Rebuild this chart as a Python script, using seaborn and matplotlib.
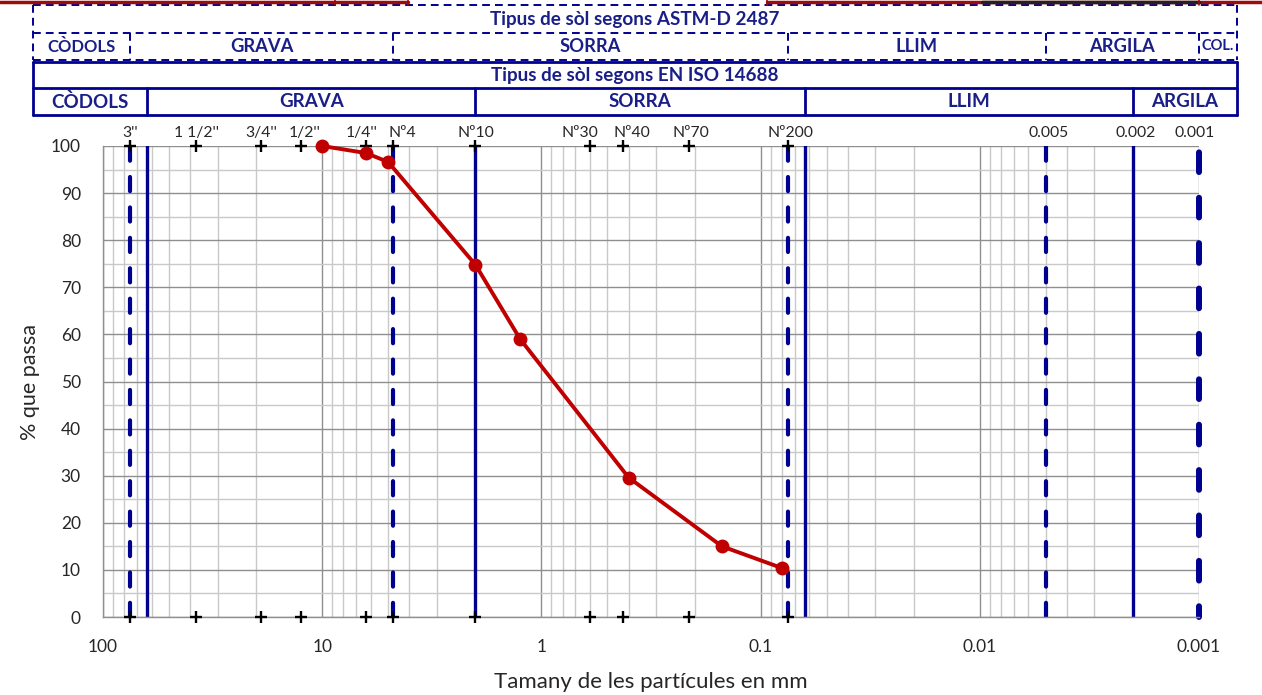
import matplotlib
matplotlib.use("Agg")
import matplotlib.pyplot as plt
import seaborn as sns
import pandas as pd
from matplotlib.lines import Line2D
from matplotlib.transforms import ScaledTranslation
from matplotlib.ticker import LogLocator, MultipleLocator, NullLocator, FixedLocator, NullFormatter

# ---------------- data ----------------
sizes_mm = [10, 6.3, 5.0, 2.0, 1.25, 0.4, 0.15, 0.08]
pct_pass = [100, 98.5, 96.6, 74.8, 59.0, 29.6, 15.0, 10.4]

sieve_sizes = [75, 37.5, 19, 12.5, 6.3, 4.75, 2.0, 0.6, 0.425, 0.212, 0.075]
sieve_labels = ["3''", "1 1/2''", "3/4''", "1/2''", "1/4''", "Nº4", "Nº10",
                "Nº30", "Nº40", "Nº70", "Nº200"]
fine_sizes = [0.005, 0.002, 0.001]
fine_labels = ["0.005", "0.002", "0.001"]

astm_bounds = [75, 4.75, 0.075, 0.005, 0.001]
astm_classes = ["CÒDOLS", "GRAVA", "SORRA", "LLIM", "ARGILA", "COL."]
iso_bounds = [63, 2, 0.063, 0.002]
iso_classes = ["CÒDOLS", "GRAVA", "SORRA", "LLIM", "ARGILA"]
astm_title = "Tipus de sòl segons ASTM-D 2487"
iso_title = "Tipus de sòl segons EN ISO 14688"

x_ticks = [100, 10, 1, 0.1, 0.01, 0.001]
x_ticklabels = ["100", "10", "1", "0.1", "0.01", "0.001"]
y_ticks = [0, 10, 20, 30, 40, 50, 60, 70, 80, 90, 100]

x_label = "Tamany de les partícules en mm"
y_label = "% que passa"

# ---------------- style ----------------
sns.set_style("white")
plt.rcParams["font.family"] = ["Lato", "DejaVu Sans"]

NAVY = "#000090"
TXT_NAVY = "#1a1f88"
RED = "#C00000"

# horizontal nudges (pixels) of the top labels, as in the original layout
top_label_nudge = [0, 0, 0, 4, -5, 9, 0, -10, 9, 2, 2, 3, 3, -4]

W, H = 1262, 695
fig = plt.figure(figsize=(W / 100, H / 100), dpi=100)
ax = fig.add_axes([103 / W, 1 - 617 / H, 1096 / W, 471 / H])
ax.set_xscale("log")
ax.set_xlim(100, 0.001)
ax.set_ylim(0, 100)

# grid
ax.xaxis.set_major_locator(FixedLocator(x_ticks))
ax.set_xticklabels(x_ticklabels)
ax.xaxis.set_minor_locator(LogLocator(base=10, subs=range(2, 10)))
ax.xaxis.set_minor_formatter(NullFormatter())
ax.yaxis.set_major_locator(FixedLocator(y_ticks))
ax.yaxis.set_minor_locator(MultipleLocator(5))
ax.grid(which="major", color="#8f8f8f", lw=1.0, zorder=0)
ax.grid(which="minor", color="#c9c9c9", lw=1.0, zorder=0)
ax.set_axisbelow(True)
ax.tick_params(axis="x", which="major", length=5, color="#8f8f8f", pad=11,
               labelsize=12.5, direction="out")
ax.tick_params(axis="y", which="major", length=6, color="#8f8f8f", pad=10,
               labelsize=12.5, direction="out")
ax.tick_params(which="minor", length=0)
for s in ["top", "right"]:
    ax.spines[s].set_visible(False)
for s in ["left", "bottom"]:
    ax.spines[s].set_color("#8f8f8f")
    ax.spines[s].set_linewidth(1.0)

# boundary lines
for b in iso_bounds:
    ax.axvline(b, color=NAVY, lw=2.4, zorder=2)
for b in astm_bounds[:-1]:
    ax.axvline(b, color=NAVY, lw=3.0, ls=(0, (3.4, 3.9)),
               dash_capstyle="round", zorder=2)
ax.axvline(astm_bounds[-1], color=NAVY, lw=4.3, ls=(1.5, (3.3, 4.3)),
           dash_capstyle="round", zorder=2, clip_on=False)

# sieve markers (top and bottom)
ax.plot(sieve_sizes, [100] * len(sieve_sizes), "+", color="black", ms=8,
        mew=1.7, clip_on=False, zorder=4)
ax.plot(sieve_sizes, [0] * len(sieve_sizes), "+", color="black", ms=8,
        mew=1.7, clip_on=False, zorder=4)

# grading curve
df = pd.DataFrame({"size": sizes_mm, "pass": pct_pass})
sns.lineplot(data=df, x="size", y="pass", ax=ax, color=RED, lw=2.8,
             marker="o", markersize=10, markeredgecolor=RED,
             markeredgewidth=0, sort=False, estimator=None, zorder=6,
             clip_on=False)

ax.set_xlabel(x_label, fontsize=16, labelpad=12)
ax.set_ylabel(y_label, fontsize=15.5, labelpad=8)

# top axis with sieve names
sec = ax.secondary_xaxis("top")
sec.set_xticks(sieve_sizes + fine_sizes, labels=sieve_labels + fine_labels)
sec.xaxis.set_minor_locator(NullLocator())
sec.tick_params(length=0, pad=4, labelsize=11.3)
sec.spines["top"].set_visible(False)
for lbl, dx in zip(sec.get_xticklabels(), top_label_nudge):
    lbl.set_transform(lbl.get_transform() +
                      ScaledTranslation(dx / 100, 0, fig.dpi_scale_trans))

# ---------------- classification tables ----------------
fig.canvas.draw()
inv = fig.transFigure.inverted()


def fx(v):
    return inv.transform(ax.transData.transform((v, 50)))[0]


def px(p):
    return p / W


def py(p):
    return 1 - p / H


left, right = px(33), px(1237)


def hline(x0, x1, y, dashed, lw):
    ls = (0, (4, 2.6)) if dashed else "-"
    fig.add_artist(Line2D([x0, x1], [y, y], color=NAVY, lw=lw, ls=ls,
                          transform=fig.transFigure))


def vline(x, y0, y1, dashed, lw):
    ls = (0, (4, 2.6)) if dashed else "-"
    fig.add_artist(Line2D([x, x], [y0, y1], color=NAVY, lw=lw, ls=ls,
                          transform=fig.transFigure))


def table(title, classes, bounds, ytop, ymid, ybot, dashed, lw, sizes):
    for y in (ytop, ymid, ybot):
        hline(left, right, y, dashed, lw)
    vline(left, ytop, ybot, dashed, lw)
    vline(right, ytop, ybot, dashed, lw)
    edges = [left] + [fx(b) for b in bounds] + [right]
    for e in edges[1:-1]:
        vline(e, ymid, ybot, dashed, lw)
    fig.text((left + right) / 2, (ytop + ymid) / 2, title, ha="center",
             va="center", fontsize=13.6, fontweight="bold", color=TXT_NAVY)
    for i, c in enumerate(classes):
        fig.text((edges[i] + edges[i + 1]) / 2, (ymid + ybot) / 2, c,
                 ha="center", va="center", fontsize=sizes[i],
                 fontweight="bold", color=TXT_NAVY)


table(astm_title, astm_classes, astm_bounds, py(5), py(33), py(60), True,
      1.4, [12, 13.2, 13.2, 13.2, 13.2, 10.5])
table(iso_title, iso_classes, iso_bounds, py(62), py(88), py(115), False,
      2.0, [13.5, 13.5, 13.5, 13.5, 13.5])

# remnants of a framed element cut at the top edge
DRED = "#9e0b0b"
for x0, x1 in [(0, 408), (767, 1262)]:
    fig.add_artist(Line2D([px(x0), px(x1)], [py(2), py(2)], color=DRED,
                          lw=2.5, transform=fig.transFigure))
fig.add_artist(Line2D([px(982), px(1199)], [py(2), py(2)], color="#222222",
                      lw=2.5, transform=fig.transFigure))
for xv in (335, 408, 767, 1199):
    fig.add_artist(Line2D([px(xv), px(xv)], [py(0), py(5)], color=DRED,
                          lw=1.2, transform=fig.transFigure))

fig.savefig("out.png", dpi=100)
